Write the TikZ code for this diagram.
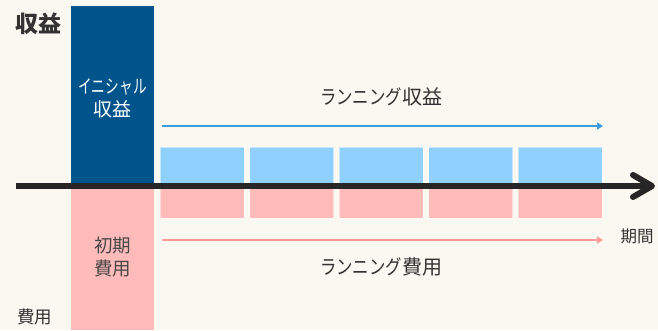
\documentclass[tikz,border=0pt]{standalone}
\usepackage{fontspec}
\setmainfont{Noto Sans CJK JP}
\newfontfamily\kanaA[FakeStretch=0.82]{Noto Sans CJK JP}
\newfontfamily\kanaB[FakeStretch=0.72]{Noto Sans CJK JP}
\usetikzlibrary{arrows.meta}
\definecolor{bg}{HTML}{FBF8F1}
\definecolor{navy}{HTML}{00548C}
\definecolor{lblue}{HTML}{8FD0FF}
\definecolor{lpink}{HTML}{FFBABA}
\definecolor{bline}{HTML}{3B9DDB}
\definecolor{pline}{HTML}{FF9A9A}
\definecolor{axisc}{HTML}{262626}
\definecolor{txt}{HTML}{333333}
\tikzset{
  revblock/.style={fill=lblue, draw=white, draw opacity=0.5, line width=0.6pt},
  costblock/.style={fill=lpink, draw=white, draw opacity=0.5, line width=0.6pt},
  lbl/.style={text=txt, font=\fontsize{20}{23}\selectfont, align=center, inner sep=0pt},
  boxlbl/.style={lbl, font=\fontsize{19}{23}\selectfont},
}
\begin{document}
\begin{tikzpicture}[x=1pt,y=-1pt]
\fill[bg] (0,0) rectangle (658,330);
\useasboundingbox (0,0) rectangle (658,330);
% initial boxes
\fill[lpink] (71,186) rectangle (154,330);
\fill[navy] (71,6) rectangle (154,186);
% running blocks
\foreach \i/\x in {1/160,2/249.5,3/339,4/428.5,5/518}{
  \draw[revblock] (\x,147) rectangle ++(84,39);
  \draw[costblock] (\x,186) rectangle ++(84,32);
}
% axis
\coordinate (a0) at (16,186);
\coordinate (a1) at (652,186);
\draw[axisc, line width=6pt] (a0) -- (a1);
\draw[axisc, line width=6pt, line cap=round, line join=round] (633,175) -- (652,186) -- (633,197);
% running arrows
\coordinate (rb0) at (162,126);
\coordinate (rb1) at (603,126);
\draw[bline, line width=2pt, -{Triangle[length=6pt,width=7pt]}] (rb0) -- (rb1);
\coordinate (rp0) at (162,240);
\coordinate (rp1) at (603,240);
\draw[pline, line width=2pt, -{Triangle[length=6pt,width=7pt]}] (rp0) -- (rp1);
% labels
\node[lbl, font=\bfseries\fontsize{23}{26}\selectfont] (rev) at (39,24) {収益};
\node[boxlbl, text=white] (ini) at (112.5,98.5) {{\kanaB イニシャル}\\収益};
\node[boxlbl, font=\fontsize{18.5}{23}\selectfont, text=txt!90] (inc) at (112.5,257) {初期\\費用};
\node[lbl] (rrev) at (381,97) {{\kanaA ランニング}収益};
\node[lbl] (rcost) at (381,267) {{\kanaA ランニング}費用};
\node[lbl, font=\fontsize{16.5}{20}\selectfont] (per) at (637,236) {期間};
\node[lbl, font=\fontsize{17.5}{20}\selectfont] (cost) at (34.5,317) {費用};
\end{tikzpicture}
\end{document}
